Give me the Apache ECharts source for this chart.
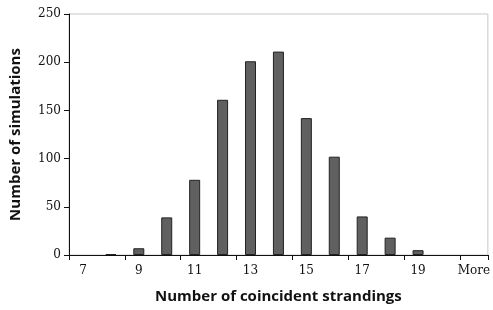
<!DOCTYPE html>
<html><head><meta charset="utf-8">
<script src="https://cdn.jsdelivr.net/npm/echarts@6/dist/echarts.min.js"></script>
<style>html,body{margin:0;padding:0;background:#fff}#c{width:493px;height:310px}</style>
</head><body><div id="c"></div>
<script>
const categories = ['7','8','9','10','11','12','13','14','15','16','17','18','19','20','More'];
const counts = [0, 1, 7, 39, 78, 161, 201, 211, 142, 102, 40, 18, 5, 0, 0];
const yTicks = [0, 50, 100, 150, 200, 250];

const chart = echarts.init(document.getElementById('c'), null, {renderer:'canvas'});
chart.setOption({
  animation: false,
  backgroundColor: '#fff',
  grid: {left: 68, right: 4, top: 14, bottom: 55, show: true, borderColor: '#c8c8c8', borderWidth: 1},
  xAxis: {
    type: 'category', data: categories,
    name: 'Number of coincident strandings', nameLocation: 'middle', nameGap: 34,
    nameTextStyle: {fontFamily: 'Open Sans', fontWeight: 'bold', fontSize: 15, color: '#111'},
    axisLine: {lineStyle: {color: '#111', width: 1}},
    axisTick: {show: true, length: 5, lineStyle: {color: '#111'}},
    axisLabel: {interval: 1, fontFamily: 'DejaVu Serif', fontSize: 12, color: '#111', margin: 10}
  },
  yAxis: {
    type: 'value', min: yTicks[0], max: yTicks[yTicks.length-1], interval: 50,
    name: 'Number of simulations', nameLocation: 'middle', nameGap: 46, nameRotate: 90,
    nameTextStyle: {fontFamily: 'Open Sans', fontWeight: 'bold', fontSize: 15, color: '#111'},
    axisLine: {show: true, lineStyle: {color: '#111', width: 1}},
    axisTick: {show: true, length: 5, lineStyle: {color: '#111'}},
    splitLine: {show: false},
    axisLabel: {fontFamily: 'DejaVu Serif', fontSize: 12, color: '#111', margin: 8}
  },
  series: [{
    type: 'bar', data: counts.map(v => v === 0 ? null : v), barWidth: 11,
    itemStyle: {color: '#606060', borderColor: '#222', borderWidth: 1}
  }]
});
</script></body></html>
